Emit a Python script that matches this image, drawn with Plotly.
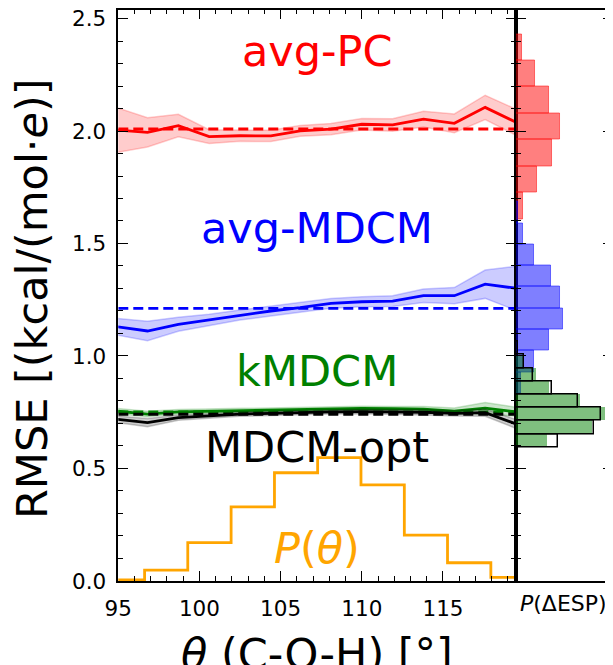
import plotly.graph_objects as go

# ---------------- data ----------------
theta = [94.9, 96.8, 98.7, 100.6, 102.5, 104.4, 106.2, 108.1, 110.0, 111.9, 113.8, 115.7, 117.6, 119.5]

avg_pc = [2.004, 1.994, 2.024, 1.975, 1.979, 1.978, 2.001, 2.008, 2.030, 2.027, 2.053, 2.034, 2.105, 2.039]
avg_pc_err = [0.100, 0.065, 0.050, 0.031, 0.025, 0.025, 0.024, 0.025, 0.026, 0.028, 0.035, 0.042, 0.054, 0.058]

avg_mdcm = [1.130, 1.111, 1.141, 1.160, 1.182, 1.200, 1.215, 1.234, 1.241, 1.244, 1.268, 1.268, 1.319, 1.301]
avg_mdcm_err = [0.037, 0.043, 0.031, 0.025, 0.022, 0.022, 0.022, 0.022, 0.022, 0.024, 0.030, 0.036, 0.063, 0.098]

kmdcm = [0.755, 0.742, 0.752, 0.755, 0.758, 0.760, 0.762, 0.766, 0.767, 0.766, 0.764, 0.755, 0.768, 0.752]
kmdcm_err = [0.012, 0.012, 0.010, 0.010, 0.010, 0.010, 0.010, 0.010, 0.010, 0.010, 0.012, 0.014, 0.025, 0.020]

mdcm_opt = [0.719, 0.704, 0.726, 0.733, 0.742, 0.745, 0.749, 0.752, 0.753, 0.752, 0.750, 0.745, 0.748, 0.698]
mdcm_opt_err = [0.015, 0.018, 0.012, 0.010, 0.010, 0.010, 0.010, 0.010, 0.010, 0.010, 0.012, 0.012, 0.016, 0.020]

mean_rmse = {"avg-PC": 2.009, "avg-MDCM": 1.212, "kMDCM": 0.752, "MDCM-opt": 0.741}

p_theta_edges = [93.95, 96.62, 99.28, 101.95, 104.62, 107.28, 109.95, 112.62, 115.28, 117.95, 120.62]
p_theta = [0.005, 0.048, 0.170, 0.329, 0.481, 0.548, 0.427, 0.204, 0.081, 0.016]

red_edges = [1.608, 1.726, 1.843, 1.961, 2.078, 2.196, 2.314, 2.431]
red_dens = [0.34, 1.08, 1.85, 2.26, 1.69, 0.97, 0.31]
blue_edges = [0.834, 0.928, 1.023, 1.118, 1.212, 1.307, 1.402, 1.496, 1.591, 1.686]
blue_dens = [0.26, 0.92, 1.69, 2.39, 2.26, 1.79, 0.92, 0.34, 0.08]
green_edges = [0.604, 0.662, 0.719, 0.776, 0.833, 0.890, 0.947, 1.004]
green_dens = [1.57, 3.90, 4.87, 3.28, 1.69, 1.01, 0.41]
black_edges = [0.594, 0.653, 0.712, 0.770, 0.829, 0.888, 0.946, 1.005, 1.064]
black_dens = [2.14, 4.02, 4.36, 3.16, 1.83, 0.89, 0.41, 0.10]

x_ticks = [95, 100, 105, 110, 115]
y_ticks = [0.0, 0.5, 1.0, 1.5, 2.0, 2.5]
x_range = [95, 119.5]
y_range = [0, 2.540]

FONT = "DejaVu Sans"
fig = go.Figure()

series = [
    ("avg-PC", avg_pc, avg_pc_err, (255, 0, 0)),
    ("avg-MDCM", avg_mdcm, avg_mdcm_err, (0, 0, 255)),
    ("kMDCM", kmdcm, kmdcm_err, (0, 128, 0)),
    ("MDCM-opt", mdcm_opt, mdcm_opt_err, (0, 0, 0)),
]

for name, vals, err, (r, g, b) in series:
    lo = [v - e for v, e in zip(vals, err)]
    hi = [v + e for v, e in zip(vals, err)]
    band = f"rgba({r},{g},{b},0.2)"
    fig.add_trace(go.Scatter(x=theta, y=lo, mode="lines", line=dict(color=band, width=1.5),
                             showlegend=False, hoverinfo="skip"))
    fig.add_trace(go.Scatter(x=theta, y=hi, mode="lines", line=dict(color=band, width=1.5),
                             fill="tonexty", fillcolor=band, showlegend=False, hoverinfo="skip"))
    fig.add_trace(go.Scatter(x=theta, y=vals, mode="lines", line=dict(color=f"rgb({r},{g},{b})", width=2.8),
                             showlegend=False))
    m = mean_rmse[name]
    fig.add_trace(go.Scatter(x=x_range, y=[m, m], mode="lines",
                             line=dict(color=f"rgb({r},{g},{b})", width=2.8, dash="10px,5px"),
                             showlegend=False))

# P(theta) step histogram
fig.add_trace(go.Scatter(x=p_theta_edges, y=p_theta + [p_theta[-1]], mode="lines",
                         line=dict(color="#FFA500", width=2.8, shape="hv"), showlegend=False))

# side histograms
def hbar(edges, dens, fill, line_color, lw):
    centers = [(a + b) / 2 for a, b in zip(edges[:-1], edges[1:])]
    widths = [b - a for a, b in zip(edges[:-1], edges[1:])]
    return go.Bar(y=centers, x=dens, width=widths, orientation="h",
                  marker=dict(color=fill, line=dict(color=line_color, width=lw)),
                  xaxis="x2", yaxis="y2", showlegend=False)

fig.add_trace(hbar(red_edges, red_dens, "rgba(255,0,0,0.5)", "rgba(255,0,0,0.5)", 1))
fig.add_trace(hbar(blue_edges, blue_dens, "rgba(0,0,255,0.5)", "rgba(0,0,255,0.5)", 1))
fig.add_trace(hbar(green_edges, green_dens, "rgba(0,128,0,0.5)", "rgba(0,128,0,0.0)", 0))
fig.add_trace(hbar(black_edges, black_dens, "rgba(0,0,0,0)", "black", 1.5))

# text labels
labels = [
    ("avg-PC", 2.356, "red"),
    ("avg-MDCM", 1.571, "blue"),
    ("kMDCM", 0.933, "green"),
    ("MDCM-opt", 0.597, "black"),
    ("<i>P</i>(<i>θ</i>)", 0.146, "#FFA500"),
]
xc = (x_range[0] + x_range[1]) / 2
for txt, yv, col in labels:
    fig.add_annotation(x=xc, y=yv, xref="x", yref="y", text=txt, showarrow=False,
                       font=dict(family=FONT, size=43, color=col), xanchor="center", yanchor="middle")

fig.add_annotation(x=xc, y=0.016, xref="x", yref="paper", text="<i>θ</i> (C-O-H) [°]",
                   showarrow=False, font=dict(family=FONT, size=43, color="black"),
                   xanchor="center", yanchor="middle")
fig.add_annotation(x=0.0397, y=0.557, xref="paper", yref="paper", text="RMSE [(kcal/(mol·<i>e</i>)]",
                   textangle=-90, showarrow=False, font=dict(family=FONT, size=43, color="black"),
                   xanchor="center", yanchor="middle")
fig.add_annotation(x=0.919, y=0.0939, xref="paper", yref="paper", text="<i>P</i>(ΔESP)",
                   showarrow=False, font=dict(family=FONT, size=22, color="black"),
                   xanchor="center", yanchor="middle")

axis_common = dict(showline=True, linecolor="black", linewidth=1.6, ticks="inside",
                   tickcolor="black", tickwidth=1.4, ticklen=10, mirror="allticks",
                   showgrid=False, zeroline=False, automargin=False, ticklabeloverflow="allow",
                   tickfont=dict(family=FONT, size=21.5, color="black"))
minor_common = dict(ticks="inside", ticklen=5, tickwidth=1.2, tickcolor="black", showgrid=False)

y_dom = [0.1279, 0.9977]
fig.update_layout(
    width=605, height=657, margin=dict(l=0, r=0, t=0, b=0, pad=0),
    plot_bgcolor="white", paper_bgcolor="white", barmode="overlay", bargap=0,
    font=dict(family=FONT),
    xaxis=dict(domain=[0.1823, 0.8397], range=x_range, tickvals=x_ticks,
               minor=dict(dtick=1, tick0=95, **minor_common), ticklabelstandoff=7, **axis_common),
    yaxis=dict(domain=y_dom, range=y_range, tickvals=y_ticks,
               tickformat=".1f", minor=dict(dtick=0.1, tick0=0, **minor_common),
               ticklabelstandoff=6, **axis_common),
    xaxis2=dict(domain=[0.8397, 1.0], range=[0, 4.97], anchor="y2", showticklabels=False,
                ticks="", showline=True, linecolor="black", linewidth=1.6, mirror=True,
                showgrid=False, zeroline=False, automargin=False),
    yaxis2=dict(domain=y_dom, anchor="x2", matches="y", range=y_range,
                tickvals=y_ticks, showticklabels=False,
                minor=dict(dtick=0.1, tick0=0, **minor_common), **axis_common),
)

fig.write_html("out.html")
